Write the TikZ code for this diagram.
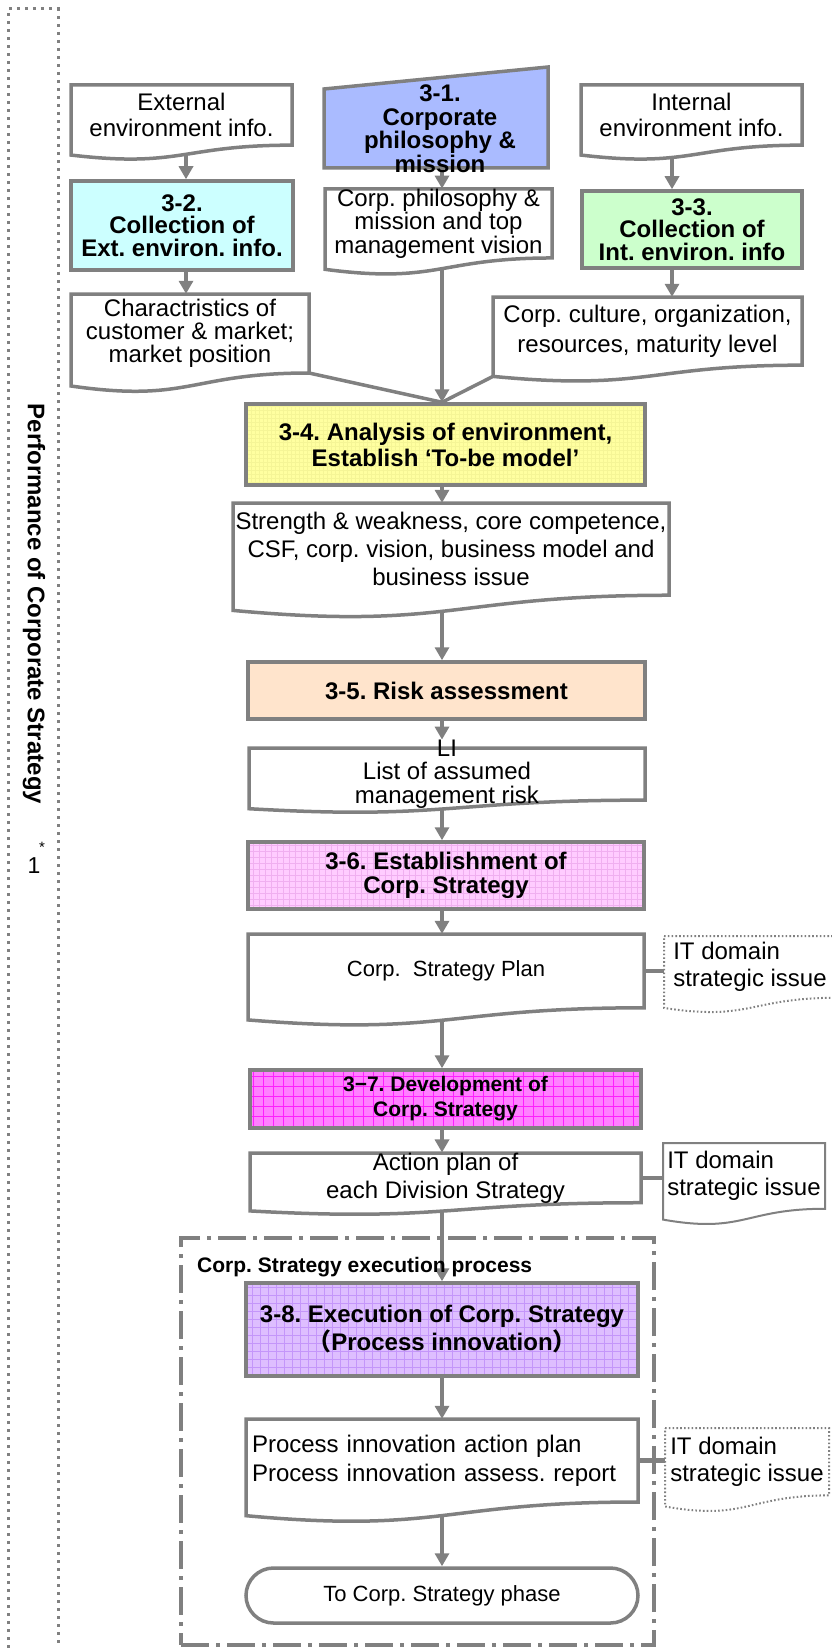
\documentclass[tikz,border=0pt]{standalone}
\usepackage{fontspec}
\setmainfont{Liberation Sans}
\newfontfamily\jpfont{Noto Sans CJK JP}
\usetikzlibrary{arrows.meta,backgrounds}

\definecolor{edgegray}{RGB}{128,128,128}
\definecolor{fillblue}{RGB}{170,187,255}
\definecolor{fillcyan}{RGB}{204,255,255}
\definecolor{fillgreen}{RGB}{204,255,204}
\definecolor{fillyellow}{RGB}{255,255,160}
\definecolor{gridyellow}{RGB}{245,245,150}
\definecolor{fillpeach}{RGB}{255,228,204}
\definecolor{fillpink}{RGB}{255,204,255}
\definecolor{gridpink}{RGB}{240,175,240}
\definecolor{fillmagenta}{RGB}{255,128,255}
\definecolor{gridmagenta}{RGB}{255,30,255}
\definecolor{filllilac}{RGB}{222,190,255}
\definecolor{gridlilac}{RGB}{196,150,250}

\tikzset{
  x=1pt, y=-1pt,
  stepbox/.style={draw=edgegray, line width=3.5pt, inner sep=0pt, align=center,
    font=\bfseries\fontsize{24}{23.5}\selectfont},
  docline/.style={draw=edgegray, line width=3.5pt, fill=white},
  doctext/.style={inner sep=0pt, align=center, font=\fontsize{24}{26}\selectfont},
  itline/.style={draw=edgegray, line width=2pt, fill=white},
  itdots/.style={itline, dash pattern=on 1.6pt off 2.2pt},
  ittext/.style={align=left, font=\fontsize{24}{26.5}\selectfont},
  arr/.style={draw=edgegray, line width=3.5pt, -{Triangle[width=14pt,length=13pt]}},
  link/.style={draw=edgegray, line width=3.5pt},
  gridfill/.style n args={3}{path picture={
    \draw[#1, line width=#2] (path picture bounding box.south west)
      grid[step=#3] (path picture bounding box.north east);}},
}

% document symbol with a wavy lower edge:
% #1 name, #2 left x, #3 top y, #4 right x, #5 height, #6 outline style, #7 text style, #8 text
\newcommand{\docbox}[8]{%
  \path[docline,#6] (#2,#3) -- (#4,#3) -- (#4,{#3+0.802*#5})
    .. controls ({(#2+#4)/2},{#3+0.802*#5}) and ({(#2+#4)/2},{#3+1.108*#5}) ..
    (#2,{#3+0.934*#5}) -- cycle;
  \node[doctext,minimum width={#4-#2},minimum height={0.802*#5},#7] (#1)
    at ({(#2+#4)/2},{#3+0.401*#5}) {#8};
  \coordinate (#1-br) at (#4,{#3+0.802*#5});
  \coordinate (#1-bl) at (#2,{#3+0.934*#5});
}

\begin{document}
\frenchspacing
\begin{tikzpicture}
\useasboundingbox (0,0) rectangle (831,1648);
\coordinate (spine) at (442,0);
\coordinate (colL) at (186,0);
\coordinate (colR) at (672,0);

% outer frame and its caption
\draw[edgegray, line width=3pt, dash pattern=on 3pt off 5pt] (8,1680) -- (8,9) -- (58,9) -- (58,1680);
\node[font=\bfseries\fontsize{24}{26}\selectfont, rotate=-90] (perf) at (34,604) {Performance of Corporate Strategy};
\node[font=\fontsize{15}{15}\selectfont] (star) at (42,847) {*};
\node[font=\fontsize{23}{23}\selectfont] (one) at (34,866) {1};

% inputs
\docbox{ext}{71}{85}{292}{75}{}{}{External\\environment info.}
\docbox{int}{581}{85}{802}{75}{}{}{Internal\\environment info.}

\path[docline, fill=fillblue] (324,89) -- (548,67) -- (548,168) -- (324,168) -- cycle;
\node[stepbox, draw=none, minimum width=200, minimum height=79] (s31) at (440,128.5)
  {3-1.\\Corporate\\philosophy \&\\mission};

\node[stepbox, fill=fillcyan, minimum width=222, minimum height=89,
  font=\bfseries\fontsize{24}{22.5}\selectfont] (s32) at (182,225.5)
  {3-2.\\Collection of\\Ext. environ. info.};
\node[stepbox, fill=fillgreen, minimum width=220, minimum height=77,
  font=\bfseries\fontsize{24}{22.5}\selectfont] (s33) at (692,229.5)
  {3-3.\\Collection of\\Int. environ. info};

\docbox{phil}{325}{189}{552}{86}{}{font=\fontsize{24}{23.5}\selectfont}
  {Corp. philosophy \&\\mission and top\\management vision}
\docbox{char}{71}{294}{309}{98.5}{}{font=\fontsize{24}{23}\selectfont}
  {Charactristics of\\customer \& market;\\market position}
\docbox{culture}{493}{297}{802}{85}{}{font=\fontsize{24}{30}\selectfont}
  {Corp. culture, organization,\\resources, maturity level}

% main column
\node[stepbox, fill=fillyellow, gridfill={gridyellow}{0.3pt}{4pt}, minimum width=399, minimum height=81,
  font=\bfseries\fontsize{24}{26}\selectfont] (s34) at (445.5,444.5)
  {3-4. Analysis of environment,\\Establish ‘To-be model’};
\docbox{strength}{233}{503}{669}{115}{}{font=\fontsize{24}{28}\selectfont}
  {Strength \& weakness, core competence,\\CSF, corp. vision, business model and\\business issue}

\node[stepbox, fill=fillpeach, minimum width=397, minimum height=57] (s35) at (446.5,690.5)
  {3-5. Risk assessment};
\docbox{risk}{249}{748}{645}{65}{}{font=\fontsize{24}{23.5}\selectfont}
  {LI\\List of assumed\\management risk}

\node[stepbox, fill=fillpink, gridfill={gridpink}{0.5pt}{6pt}, minimum width=396, minimum height=67,
  font=\bfseries\fontsize{24}{24}\selectfont] (s36) at (446,875.5)
  {3-6. Establishment of\\Corp. Strategy};
\docbox{plan}{248}{934}{644}{92}{}{font=\fontsize{22}{24}\selectfont}{Corp.\ \ Strategy Plan}
\docbox{itA}{664}{936}{836}{77}{itdots}{ittext}{IT domain\\strategic issue}

\node[stepbox, fill=fillmagenta, gridfill={gridmagenta}{0.8pt}{10pt}, minimum width=391, minimum height=58,
  font=\bfseries\fontsize{21}{25}\selectfont] (s37) at (445.5,1099)
  {3−7. Development of\\Corp. Strategy};
\docbox{action}{250}{1153}{641}{62}{}{font=\fontsize{24}{28}\selectfont}
  {Action plan of\\each Division Strategy}
\docbox{itB}{663}{1143}{825}{82}{itline}{ittext}{IT domain\\strategic issue}

% execution process group
\node[draw=edgegray, line width=3.5pt, dash pattern=on 28pt off 7pt on 4pt off 7pt,
  minimum width=473, minimum height=407, inner sep=0pt] (exec) at (417.5,1441.5) {};
\node[anchor=west, inner sep=0pt, font=\bfseries\fontsize{21}{21}\selectfont] (execlabel)
  at (197,1267) {Corp. Strategy execution process};

\node[stepbox, fill=filllilac, gridfill={gridlilac}{0.6pt}{8pt}, minimum width=392, minimum height=93,
  font=\bfseries\fontsize{24}{28}\selectfont] (s38) at (442,1329.5)
  {3-8. Execution of Corp. Strategy\\{\jpfont （}Process innovation{\jpfont ）}};
\docbox{proc}{246}{1419}{638}{103.5}{}{align=left, text width=380, font=\fontsize{24}{29}\selectfont}
  {Process innovation action plan\\Process innovation assess. report}
\docbox{itC}{665}{1428}{829}{84}{itdots}{ittext}{IT domain\\strategic issue}

\node[draw=edgegray, line width=3.5pt, fill=white, rounded corners=27.5pt, minimum width=392,
  minimum height=55, inner sep=0pt, font=\fontsize{22}{24}\selectfont] (term) at (442,1595.5)
  {To Corp. Strategy phase};

% connectors
\begin{pgfonlayer}{background}
  \draw[arr] (ext -| colL) -- (s32.north -| colL);
  \draw[arr] (s32 -| colL) -- (char.north -| colL);
  \draw[arr] (int -| colR) -- (s33.north -| colR);
  \draw[arr] (s33 -| colR) -- (culture.north -| colR);
  \draw[arr] (s31 -| spine) -- (phil.north -| spine);
  \draw[arr] (phil -| spine) -- (s34.north -| spine);
  \draw[link] (char-br) -- (s34.north -| spine);
  \draw[link] (culture-bl) -- (s34.north -| spine);
  \draw[arr] (s34 -| spine) -- (strength.north -| spine);
  \draw[arr] (strength -| spine) -- (s35.north -| spine);
  \draw[arr] (s35 -| spine) -- (risk.north -| spine);
  \draw[arr] (risk -| spine) -- (s36.north -| spine);
  \draw[arr] (s36 -| spine) -- (plan.north -| spine);
  \draw[arr] (plan -| spine) -- (s37.north -| spine);
  \draw[arr] (s37 -| spine) -- (action.north -| spine);
  \draw[arr] (action -| spine) -- (s38.north -| spine);
  \draw[arr] (s38 -| spine) -- (proc.north -| spine);
  \draw[arr] (proc -| spine) -- (term.north -| spine);
  \draw[link, line width=4.5pt] (plan) -- (plan -| itA);
  \draw[link, line width=4.5pt] (action) -- (action -| itB);
  \draw[link, line width=4.5pt] (proc) -- (proc -| itC);
\end{pgfonlayer}
\end{tikzpicture}
\end{document}
